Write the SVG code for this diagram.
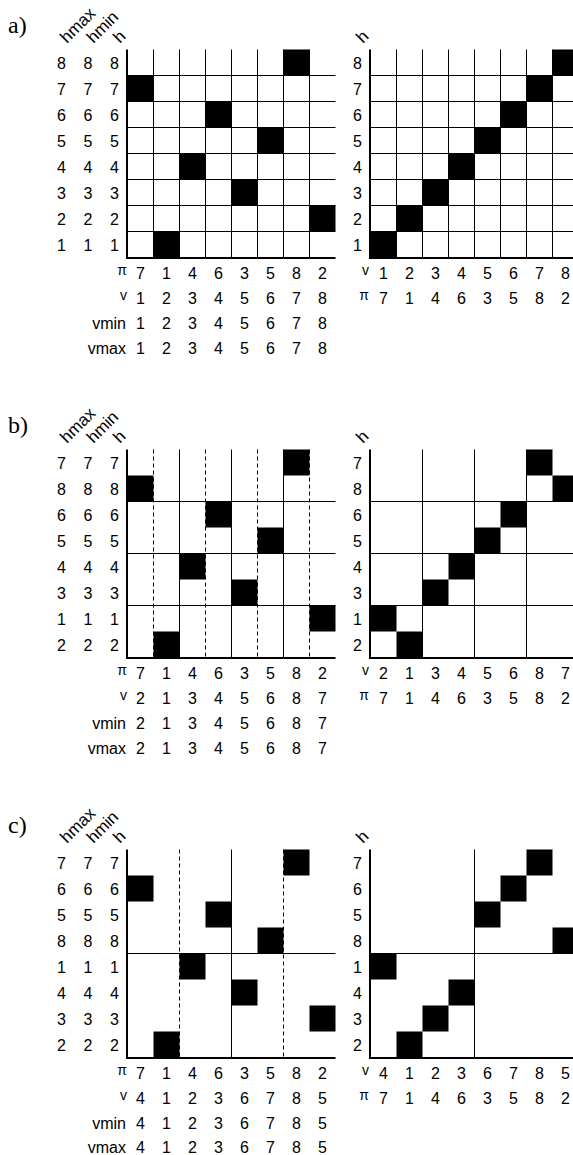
<svg xmlns="http://www.w3.org/2000/svg" xmlns:xlink="http://www.w3.org/1999/xlink" width="573" height="1155" viewBox="0 0 573 1155">
<style>
.t{font-family:"Liberation Sans",Arial,sans-serif;font-size:16px;fill:#000}
.m{text-anchor:middle}
.e{text-anchor:end}
.s{font-size:14px}
.hd{font-size:17px}
.pl{font-family:"Liberation Serif","Times New Roman",serif;font-size:24px;fill:#000}
.g{stroke:#000;stroke-width:1;fill:none}
.d{stroke-dasharray:4 3}
.ax{stroke:#000;stroke-width:2;fill:none}
</style>
<defs>
<rect id="sq" width="26" height="26" fill="#000"/>
<g id="hdrL" class="t hd">
<text transform="translate(67,44) rotate(-45)">hmax</text>
<text transform="translate(93.5,44) rotate(-45)">hmin</text>
<text transform="translate(120,44) rotate(-45)">h</text>
</g>
<g id="sqL">
<use xlink:href="#sq" x="127.5" y="75.5"/>
<use xlink:href="#sq" x="153.5" y="231.5"/>
<use xlink:href="#sq" x="179.5" y="153.5"/>
<use xlink:href="#sq" x="205.5" y="101.5"/>
<use xlink:href="#sq" x="231.5" y="179.5"/>
<use xlink:href="#sq" x="257.5" y="127.5"/>
<use xlink:href="#sq" x="283.5" y="49.5"/>
<use xlink:href="#sq" x="309.5" y="205.5"/>
</g>
<g id="axL">
<path class="ax" d="M127,49.5V258H335.5"/>
</g>
<g id="axR">
<path class="ax" d="M370,49.5V258H580"/>
</g>
</defs>

<!-- Panel a -->
<g id="panel-a">
<text class="pl" x="8" y="33">a)</text>
<g id="a-left">
<use xlink:href="#hdrL"/>
<g class="g">
<path d="M153.5,49.5V257.5M179.5,49.5V257.5M205.5,49.5V257.5M231.5,49.5V257.5M257.5,49.5V257.5M283.5,49.5V257.5M309.5,49.5V257.5"/>
<path d="M127.5,75.5H335.5M127.5,101.5H335.5M127.5,127.5H335.5M127.5,153.5H335.5M127.5,179.5H335.5M127.5,205.5H335.5M127.5,231.5H335.5"/>
</g>
<use xlink:href="#sqL"/>
<use xlink:href="#axL"/>
<g class="t m">
<text x="61.5 74.75 88 101.25 114.5" y="68.5">8 8 8</text>
<text x="61.5 74.75 88 101.25 114.5" y="94.5">7 7 7</text>
<text x="61.5 74.75 88 101.25 114.5" y="120.5">6 6 6</text>
<text x="61.5 74.75 88 101.25 114.5" y="146.5">5 5 5</text>
<text x="61.5 74.75 88 101.25 114.5" y="172.5">4 4 4</text>
<text x="61.5 74.75 88 101.25 114.5" y="198.5">3 3 3</text>
<text x="61.5 74.75 88 101.25 114.5" y="224.5">2 2 2</text>
<text x="61.5 74.75 88 101.25 114.5" y="250.5">1 1 1</text>
<text x="140.5 153.5 166.5 179.5 192.5 205.5 218.5 231.5 244.5 257.5 270.5 283.5 296.5 309.5 322.5" y="278.5">7 1 4 6 3 5 8 2</text>
<text x="140.5 153.5 166.5 179.5 192.5 205.5 218.5 231.5 244.5 257.5 270.5 283.5 296.5 309.5 322.5" y="303.5">1 2 3 4 5 6 7 8</text>
<text x="140.5 153.5 166.5 179.5 192.5 205.5 218.5 231.5 244.5 257.5 270.5 283.5 296.5 309.5 322.5" y="328.5">1 2 3 4 5 6 7 8</text>
<text x="140.5 153.5 166.5 179.5 192.5 205.5 218.5 231.5 244.5 257.5 270.5 283.5 296.5 309.5 322.5" y="353.5">1 2 3 4 5 6 7 8</text>
</g>
<g class="t e">
<text class="s" x="127" y="274.5">π</text>
<text class="s" x="127" y="299.5">v</text>
<text x="126" y="328.5">vmin</text>
<text x="126" y="353.5">vmax</text>
</g>
</g>
<g id="a-right">
<text class="t hd" transform="translate(363,44) rotate(-45)">h</text>
<g class="g">
<path d="M396.5,49.5V257.5M422.5,49.5V257.5M448.5,49.5V257.5M474.5,49.5V257.5M500.5,49.5V257.5M526.5,49.5V257.5M552.5,49.5V257.5"/>
<path d="M370.5,75.5H578.5M370.5,101.5H578.5M370.5,127.5H578.5M370.5,153.5H578.5M370.5,179.5H578.5M370.5,205.5H578.5M370.5,231.5H578.5"/>
</g>
<use xlink:href="#sq" x="370.5" y="231.5"/>
<use xlink:href="#sq" x="396.5" y="205.5"/>
<use xlink:href="#sq" x="422.5" y="179.5"/>
<use xlink:href="#sq" x="448.5" y="153.5"/>
<use xlink:href="#sq" x="474.5" y="127.5"/>
<use xlink:href="#sq" x="500.5" y="101.5"/>
<use xlink:href="#sq" x="526.5" y="75.5"/>
<use xlink:href="#sq" x="552.5" y="49.5"/>
<use xlink:href="#axR"/>
<g class="t m">
<text x="357.5" y="68.5">8</text>
<text x="357.5" y="94.5">7</text>
<text x="357.5" y="120.5">6</text>
<text x="357.5" y="146.5">5</text>
<text x="357.5" y="172.5">4</text>
<text x="357.5" y="198.5">3</text>
<text x="357.5" y="224.5">2</text>
<text x="357.5" y="250.5">1</text>
<text x="383.5 396.5 409.5 422.5 435.5 448.5 461.5 474.5 487.5 500.5 513.5 526.5 539.5 552.5 565.5" y="278.5">1 2 3 4 5 6 7 8</text>
<text x="383.5 396.5 409.5 422.5 435.5 448.5 461.5 474.5 487.5 500.5 513.5 526.5 539.5 552.5 565.5" y="303.5">7 1 4 6 3 5 8 2</text>
</g>
<g class="t e s">
<text x="369" y="274.5">v</text>
<text x="369" y="299.5">π</text>
</g>
</g>
</g>

<!-- Panel b -->
<g id="panel-b" transform="translate(0,400)">
<text class="pl" x="8" y="33">b)</text>
<g id="b-left">
<use xlink:href="#hdrL"/>
<g class="g">
<path class="d" d="M153.5,49.5V257.5M205.5,49.5V257.5M257.5,49.5V257.5M309.5,49.5V257.5"/>
<path d="M179.5,49.5V257.5M231.5,49.5V257.5M283.5,49.5V257.5"/>
<path d="M127.5,101.5H335.5M127.5,153.5H335.5M127.5,205.5H335.5"/>
</g>
<use xlink:href="#sqL"/>
<use xlink:href="#axL"/>
<g class="t m">
<text x="61.5 74.75 88 101.25 114.5" y="68.5">7 7 7</text>
<text x="61.5 74.75 88 101.25 114.5" y="94.5">8 8 8</text>
<text x="61.5 74.75 88 101.25 114.5" y="120.5">6 6 6</text>
<text x="61.5 74.75 88 101.25 114.5" y="146.5">5 5 5</text>
<text x="61.5 74.75 88 101.25 114.5" y="172.5">4 4 4</text>
<text x="61.5 74.75 88 101.25 114.5" y="198.5">3 3 3</text>
<text x="61.5 74.75 88 101.25 114.5" y="224.5">1 1 1</text>
<text x="61.5 74.75 88 101.25 114.5" y="250.5">2 2 2</text>
<text x="140.5 153.5 166.5 179.5 192.5 205.5 218.5 231.5 244.5 257.5 270.5 283.5 296.5 309.5 322.5" y="278.5">7 1 4 6 3 5 8 2</text>
<text x="140.5 153.5 166.5 179.5 192.5 205.5 218.5 231.5 244.5 257.5 270.5 283.5 296.5 309.5 322.5" y="303.5">2 1 3 4 5 6 8 7</text>
<text x="140.5 153.5 166.5 179.5 192.5 205.5 218.5 231.5 244.5 257.5 270.5 283.5 296.5 309.5 322.5" y="328.5">2 1 3 4 5 6 8 7</text>
<text x="140.5 153.5 166.5 179.5 192.5 205.5 218.5 231.5 244.5 257.5 270.5 283.5 296.5 309.5 322.5" y="353.5">2 1 3 4 5 6 8 7</text>
</g>
<g class="t e">
<text class="s" x="127" y="274.5">π</text>
<text class="s" x="127" y="299.5">v</text>
<text x="126" y="328.5">vmin</text>
<text x="126" y="353.5">vmax</text>
</g>
</g>
<g id="b-right">
<text class="t hd" transform="translate(363,44) rotate(-45)">h</text>
<g class="g">
<path d="M422.5,49.5V257.5M474.5,49.5V257.5M526.5,49.5V257.5"/>
<path d="M370.5,101.5H578.5M370.5,153.5H578.5M370.5,205.5H578.5"/>
</g>
<use xlink:href="#sq" x="370.5" y="205.5"/>
<use xlink:href="#sq" x="396.5" y="231.5"/>
<use xlink:href="#sq" x="422.5" y="179.5"/>
<use xlink:href="#sq" x="448.5" y="153.5"/>
<use xlink:href="#sq" x="474.5" y="127.5"/>
<use xlink:href="#sq" x="500.5" y="101.5"/>
<use xlink:href="#sq" x="526.5" y="49.5"/>
<use xlink:href="#sq" x="552.5" y="75.5"/>
<use xlink:href="#axR"/>
<g class="t m">
<text x="357.5" y="68.5">7</text>
<text x="357.5" y="94.5">8</text>
<text x="357.5" y="120.5">6</text>
<text x="357.5" y="146.5">5</text>
<text x="357.5" y="172.5">4</text>
<text x="357.5" y="198.5">3</text>
<text x="357.5" y="224.5">1</text>
<text x="357.5" y="250.5">2</text>
<text x="383.5 396.5 409.5 422.5 435.5 448.5 461.5 474.5 487.5 500.5 513.5 526.5 539.5 552.5 565.5" y="278.5">2 1 3 4 5 6 8 7</text>
<text x="383.5 396.5 409.5 422.5 435.5 448.5 461.5 474.5 487.5 500.5 513.5 526.5 539.5 552.5 565.5" y="303.5">7 1 4 6 3 5 8 2</text>
</g>
<g class="t e s">
<text x="369" y="274.5">v</text>
<text x="369" y="299.5">π</text>
</g>
</g>
</g>

<!-- Panel c -->
<g id="panel-c" transform="translate(0,800)">
<text class="pl" x="8" y="33">c)</text>
<g id="c-left">
<use xlink:href="#hdrL"/>
<g class="g">
<path class="d" d="M179.5,49.5V257.5M283.5,49.5V257.5"/>
<path d="M231.5,49.5V257.5"/>
<path d="M127.5,153.5H335.5"/>
</g>
<use xlink:href="#sqL"/>
<use xlink:href="#axL"/>
<g class="t m">
<text x="61.5 74.75 88 101.25 114.5" y="68.5">7 7 7</text>
<text x="61.5 74.75 88 101.25 114.5" y="94.5">6 6 6</text>
<text x="61.5 74.75 88 101.25 114.5" y="120.5">5 5 5</text>
<text x="61.5 74.75 88 101.25 114.5" y="146.5">8 8 8</text>
<text x="61.5 74.75 88 101.25 114.5" y="172.5">1 1 1</text>
<text x="61.5 74.75 88 101.25 114.5" y="198.5">4 4 4</text>
<text x="61.5 74.75 88 101.25 114.5" y="224.5">3 3 3</text>
<text x="61.5 74.75 88 101.25 114.5" y="250.5">2 2 2</text>
<text x="140.5 153.5 166.5 179.5 192.5 205.5 218.5 231.5 244.5 257.5 270.5 283.5 296.5 309.5 322.5" y="278.5">7 1 4 6 3 5 8 2</text>
<text x="140.5 153.5 166.5 179.5 192.5 205.5 218.5 231.5 244.5 257.5 270.5 283.5 296.5 309.5 322.5" y="303.5">4 1 2 3 6 7 8 5</text>
<text x="140.5 153.5 166.5 179.5 192.5 205.5 218.5 231.5 244.5 257.5 270.5 283.5 296.5 309.5 322.5" y="328.5">4 1 2 3 6 7 8 5</text>
<text x="140.5 153.5 166.5 179.5 192.5 205.5 218.5 231.5 244.5 257.5 270.5 283.5 296.5 309.5 322.5" y="353">4 1 2 3 6 7 8 5</text>
</g>
<g class="t e">
<text class="s" x="127" y="274.5">π</text>
<text class="s" x="127" y="299.5">v</text>
<text x="126" y="328.5">vmin</text>
<text x="126" y="353">vmax</text>
</g>
</g>
<g id="c-right">
<text class="t hd" transform="translate(363,44) rotate(-45)">h</text>
<g class="g">
<path d="M474.5,49.5V257.5"/>
<path d="M370.5,153.5H578.5"/>
</g>
<use xlink:href="#sq" x="370.5" y="153.5"/>
<use xlink:href="#sq" x="396.5" y="231.5"/>
<use xlink:href="#sq" x="422.5" y="205.5"/>
<use xlink:href="#sq" x="448.5" y="179.5"/>
<use xlink:href="#sq" x="474.5" y="101.5"/>
<use xlink:href="#sq" x="500.5" y="75.5"/>
<use xlink:href="#sq" x="526.5" y="49.5"/>
<use xlink:href="#sq" x="552.5" y="127.5"/>
<use xlink:href="#axR"/>
<g class="t m">
<text x="357.5" y="68.5">7</text>
<text x="357.5" y="94.5">6</text>
<text x="357.5" y="120.5">5</text>
<text x="357.5" y="146.5">8</text>
<text x="357.5" y="172.5">1</text>
<text x="357.5" y="198.5">4</text>
<text x="357.5" y="224.5">3</text>
<text x="357.5" y="250.5">2</text>
<text x="383.5 396.5 409.5 422.5 435.5 448.5 461.5 474.5 487.5 500.5 513.5 526.5 539.5 552.5 565.5" y="278.5">4 1 2 3 6 7 8 5</text>
<text x="383.5 396.5 409.5 422.5 435.5 448.5 461.5 474.5 487.5 500.5 513.5 526.5 539.5 552.5 565.5" y="303.5">7 1 4 6 3 5 8 2</text>
</g>
<g class="t e s">
<text x="369" y="274.5">v</text>
<text x="369" y="299.5">π</text>
</g>
</g>
</g>
</svg>
